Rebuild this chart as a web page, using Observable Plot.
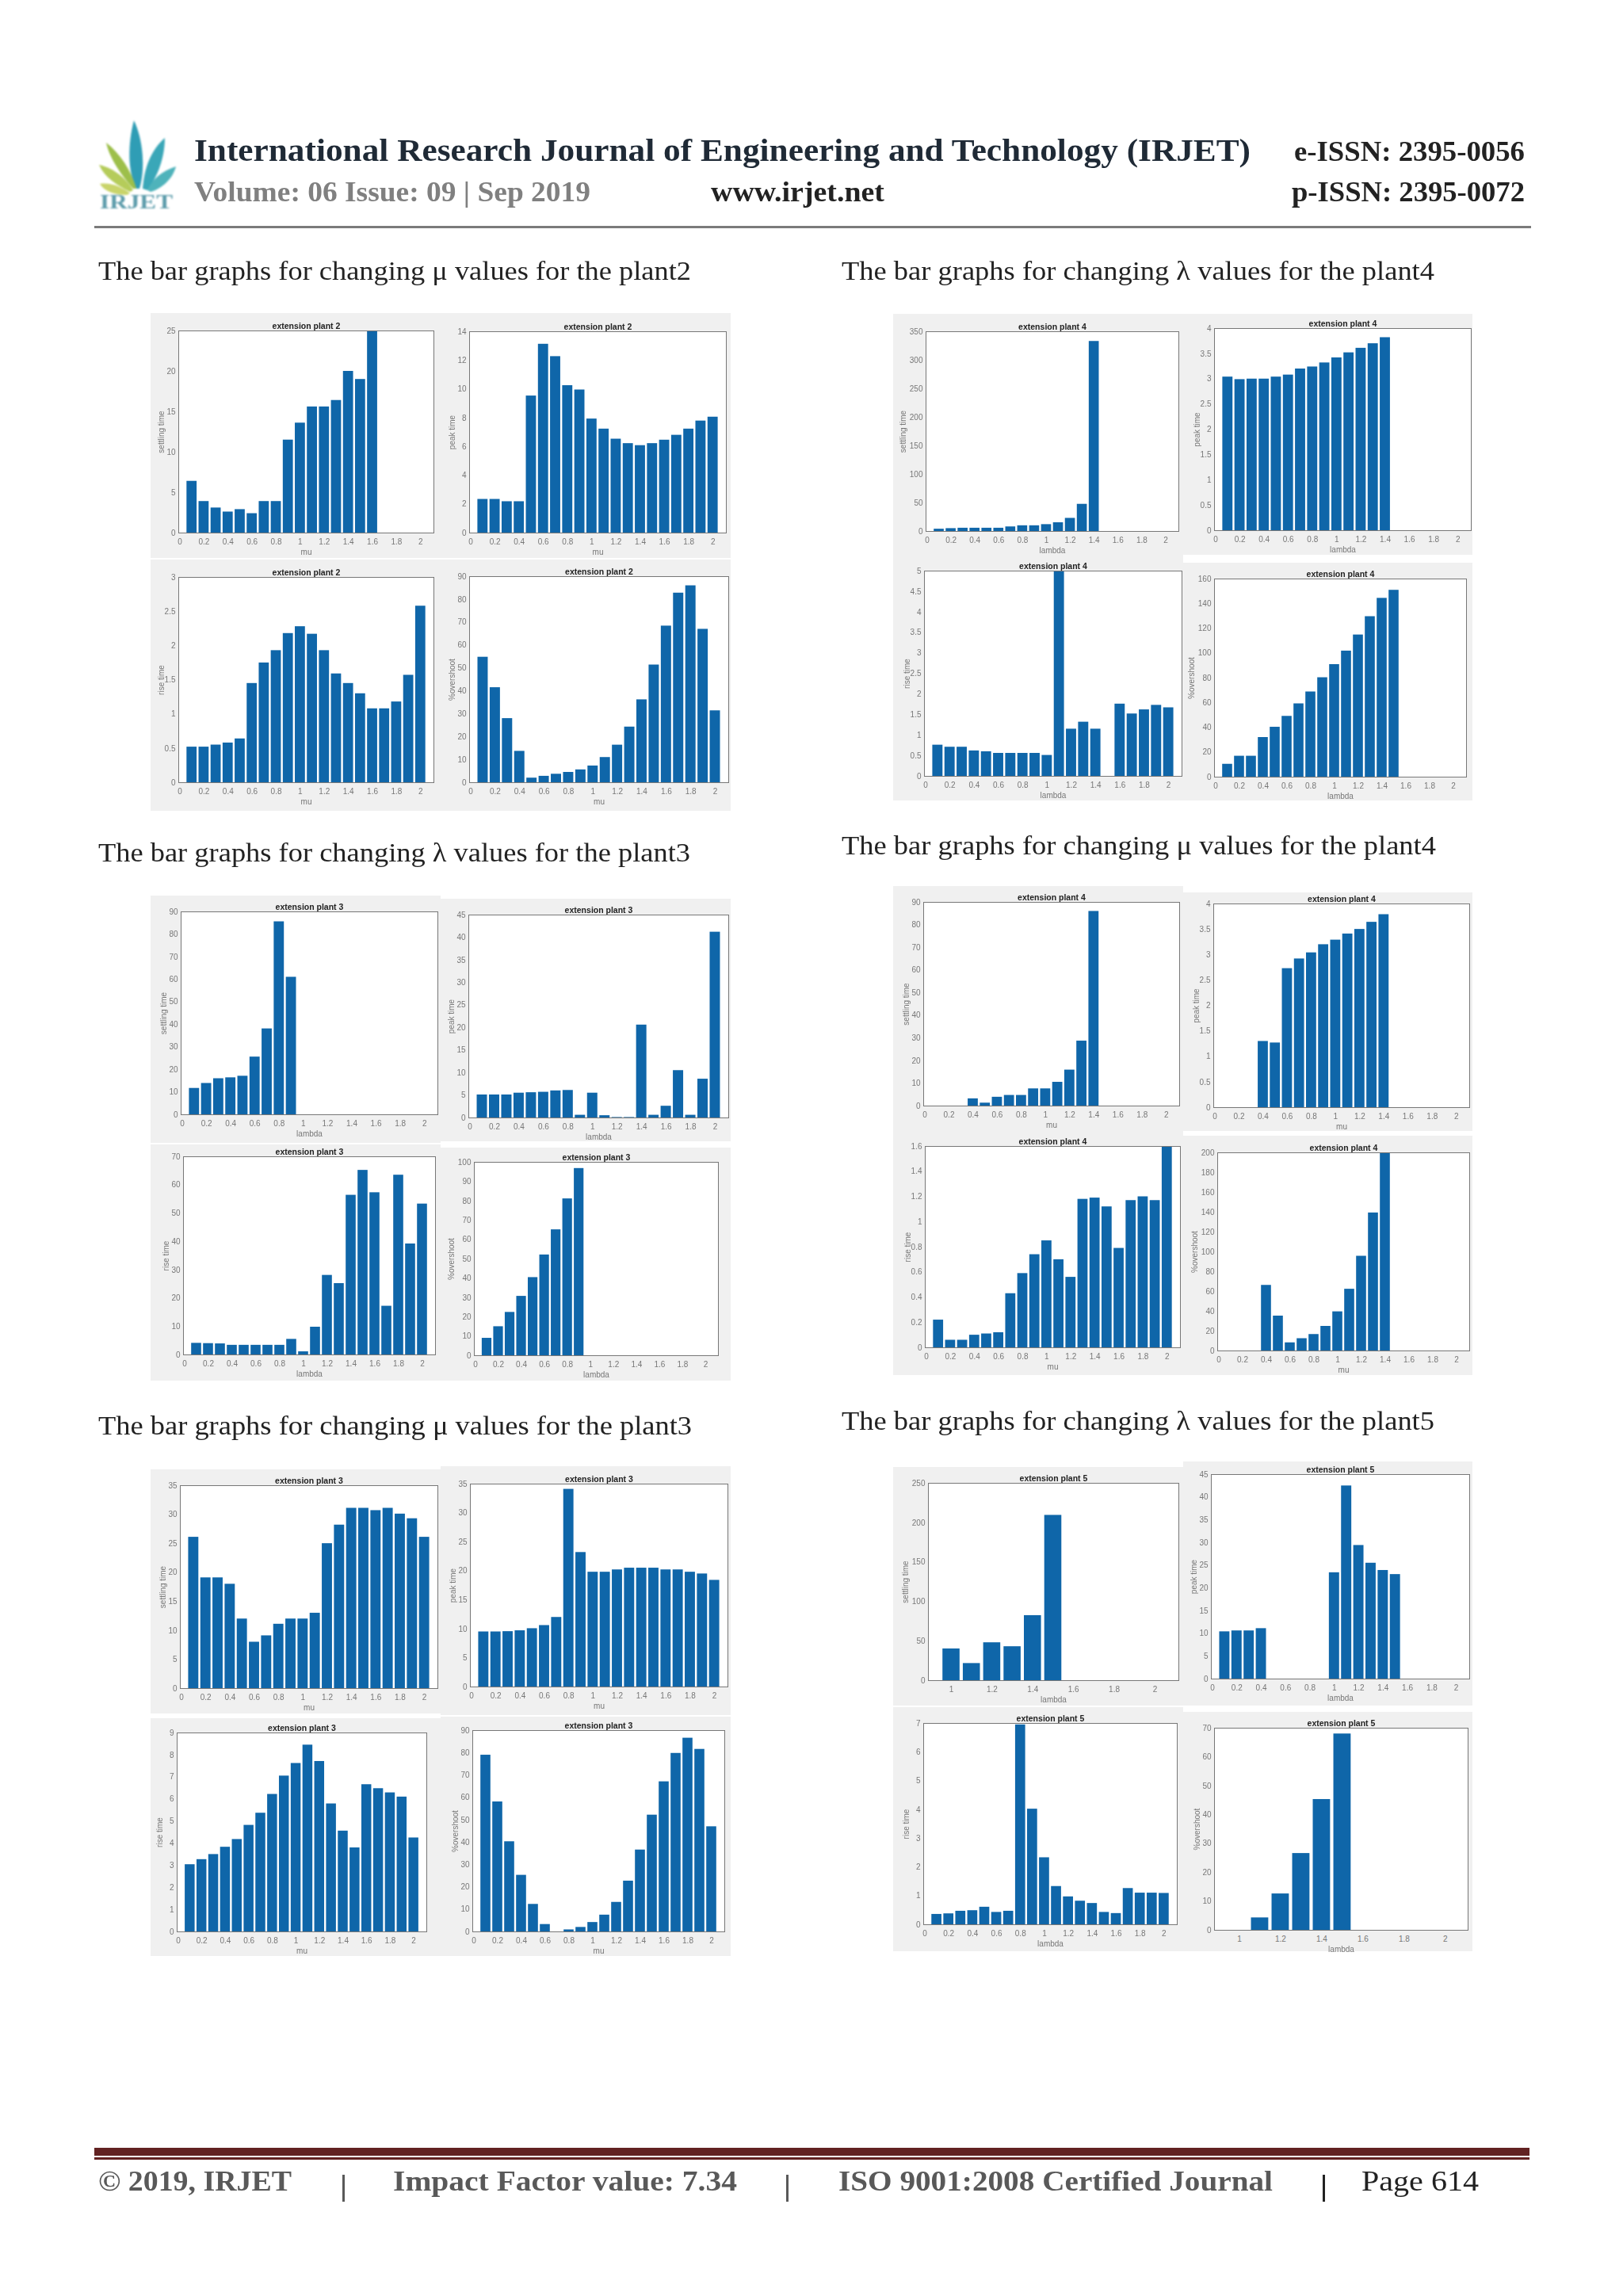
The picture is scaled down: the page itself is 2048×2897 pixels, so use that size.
<!DOCTYPE html>
<html>
<head>
<meta charset="utf-8">
<script src="https://cdn.jsdelivr.net/npm/d3@7"></script>
<script src="https://cdn.jsdelivr.net/npm/@observablehq/plot@0.6"></script>
<style>
html,body{margin:0;padding:0;background:#fff;}
#page{position:relative;width:2048px;height:2897px;overflow:hidden;background:#fff;}
.pt{position:absolute;white-space:nowrap;font-family:"Liberation Serif",serif;transform-origin:0 100%;line-height:1.15;}
.sub{position:absolute;}
.sub svg{filter:blur(0.7px);display:block;}
.bar{position:absolute;}
</style>
</head>
<body>
<div id="page"></div>
<script>
// ---------- shared axis values ----------
const barX = [0.1,0.2,0.3,0.4,0.5,0.6,0.7,0.8,0.9,1,1.1,1.2,1.3,1.4,1.5,1.6,1.7,1.8,1.9,2];
const xTicks = [0,0.2,0.4,0.6,0.8,1,1.2,1.4,1.6,1.8,2];
const xTicksZoom = [1,1.2,1.4,1.6,1.8,2];

// ---------- plant 2, changing mu ----------
const p2MuSettling = [6.4,3.9,3.1,2.6,2.9,2.4,3.9,3.9,11.5,13.6,15.6,15.6,16.4,20,19,25];
const p2MuPeak = [2.34,2.34,2.18,2.18,9.53,13.13,12.27,10.25,9.95,7.93,7.23,6.53,6.22,6.08,6.22,6.46,6.8,7.23,7.79,8.06];
const p2MuRise = [0.52,0.52,0.55,0.58,0.64,1.45,1.75,1.93,2.18,2.28,2.17,1.93,1.59,1.45,1.3,1.08,1.08,1.18,1.57,2.58];
const p2MuOver = [54.8,41.5,28,13.7,2,2.8,3.7,4.5,5.6,7.3,11,16.4,24.3,36.2,51.4,68.4,82.8,86,67,31.4];
// ---------- plant 4, changing lambda ----------
const p4LamSettling = [4,5,5.7,5.7,5.7,5.7,8,10,10,12,15.3,23,47.6,333];
const p4LamPeak = [3.04,2.99,3,3,3.04,3.08,3.2,3.24,3.32,3.42,3.52,3.61,3.7,3.82];
const p4LamRise = [0.76,0.71,0.71,0.62,0.6,0.56,0.56,0.56,0.56,0.51,5,1.15,1.32,1.15,null,1.76,1.52,1.62,1.73,1.67];
const p4LamOver = [10.4,16.9,16.9,32,40.3,49.1,59.2,68.8,80.3,90.9,101.8,114.8,129.6,144.4,150.9];
// ---------- plant 3, changing lambda ----------
const p3LamSettling = [11.7,13.9,16,16.4,17.1,25.6,38.1,85.6,61];
const p3LamPeak = [5.1,5.1,5.1,5.5,5.6,5.7,6,6.1,0.6,5.5,0.5,0.1,0.1,20.6,0.6,2.6,10.5,0.6,8.6,41.2];
const p3LamRise = [4.1,4,3.9,3.4,3.4,3.4,3.4,3.4,5.5,1.1,9.8,28.1,25.2,56.4,65.2,57.3,17.2,63.5,39.2,53.3];
const p3LamOver = [9,15,22.4,30.7,40.4,52.1,65.1,81.1,96.8];
// ---------- plant 4, changing mu ----------
const p4MuSettling = [null,null,null,3.2,1.3,3.9,4.7,4.7,7.6,7.6,10.5,15.9,28.7,86];
const p4MuPeak = [null,null,null,1.3,1.27,2.73,2.92,3.04,3.2,3.29,3.41,3.5,3.64,3.79];
const p4MuRise = [0.22,0.06,0.06,0.1,0.11,0.12,0.43,0.59,0.74,0.85,0.7,0.56,1.18,1.19,1.12,0.79,1.17,1.2,1.17,1.6];
const p4MuOver = [null,null,null,66.2,35.2,8.2,12.4,16.6,24.8,39.5,62.3,95.6,139.3,200];
// ---------- plant 3, changing mu ----------
const p3MuSettling = [26.1,19.1,19.1,18,12,8,9.1,11.1,12,12,13,25,28.2,31.1,31.1,30.7,31.1,30.1,29.3,26.1];
const p3MuPeak = [9.5,9.5,9.55,9.7,10.06,10.6,12,34.1,23.2,19.8,19.8,20.2,20.5,20.5,20.5,20.2,20.2,19.8,19.5,18.4];
const p3MuRise = [3.04,3.27,3.5,3.83,4.18,4.82,5.37,6.22,7.05,7.62,8.45,7.71,5.79,4.56,3.8,6.66,6.48,6.29,6.1,4.25];
const p3MuOver = [79,58.1,40.3,25.3,12.3,3.3,null,0.9,2,4.2,7.5,13.2,22.7,36.6,52.2,67.1,79.8,86.6,81.6,47];
// ---------- plant 5, changing lambda ----------
const p5LamSettling = [null,null,null,null,null,null,null,null,null,40.2,21.7,48,43,82.4,209.4];
const p5LamPeak = [10.4,10.6,10.6,11.1,null,null,null,null,null,23.4,42.5,29.4,25.5,23.9,23];
const p5LamRise = [0.36,0.38,0.47,0.49,0.61,0.43,0.47,6.95,4.02,2.33,1.33,0.97,0.82,0.74,0.43,0.39,1.26,1.1,1.1,1.09];
const p5LamOver = [null,null,null,null,null,null,null,null,null,null,4.3,12.6,26.6,45.3,68];

// ---------- tick labels of the value axes ----------
const t25 = [0,5,10,15,20,25];
const t14 = [0,2,4,6,8,10,12,14];
const t3 = [0,0.5,1,1.5,2,2.5,3];
const t90 = [0,10,20,30,40,50,60,70,80,90];
const t350 = [0,50,100,150,200,250,300,350];
const t4 = [0,0.5,1,1.5,2,2.5,3,3.5,4];
const t5 = [0,0.5,1,1.5,2,2.5,3,3.5,4,4.5,5];
const t160 = [0,20,40,60,80,100,120,140,160];
const t45 = [0,5,10,15,20,25,30,35,40,45];
const t7 = [0,1,2,3,4,5,6,7];
const t100 = [0,10,20,30,40,50,60,70,80,90,100];
const t16 = [0,0.2,0.4,0.6,0.8,1,1.2,1.4,1.6];
const t200 = [0,20,40,60,80,100,120,140,160,180,200];
const t35 = [0,5,10,15,20,25,30,35];
const t9 = [0,1,2,3,4,5,6,7,8,9];
const t250 = [0,50,100,150,200,250];
const t70 = [0,10,20,30,40,50,60,70];

// ---------- which series goes in which subplot ----------
const subplots = [
 {v:p2MuSettling,t:"extension plant 2",y:"settling time",x:"mu",yt:t25},
 {v:p2MuPeak,t:"extension plant 2",y:"peak time",x:"mu",yt:t14},
 {v:p2MuRise,t:"extension plant 2",y:"rise time",x:"mu",yt:t3},
 {v:p2MuOver,t:"extension plant 2",y:"%overshoot",x:"mu",yt:t90},
 {v:p4LamSettling,t:"extension plant 4",y:"settling time",x:"lambda",yt:t350},
 {v:p4LamPeak,t:"extension plant 4",y:"peak time",x:"lambda",yt:t4},
 {v:p4LamRise,t:"extension plant 4",y:"rise time",x:"lambda",yt:t5},
 {v:p4LamOver,t:"extension plant 4",y:"%overshoot",x:"lambda",yt:t160},
 {v:p3LamSettling,t:"extension plant 3",y:"settling time",x:"lambda",yt:t90},
 {v:p3LamPeak,t:"extension plant 3",y:"peak time",x:"lambda",yt:t45},
 {v:p3LamRise,t:"extension plant 3",y:"rise time",x:"lambda",yt:t70},
 {v:p3LamOver,t:"extension plant 3",y:"%overshoot",x:"lambda",yt:t100},
 {v:p4MuSettling,t:"extension plant 4",y:"settling time",x:"mu",yt:t90},
 {v:p4MuPeak,t:"extension plant 4",y:"peak time",x:"mu",yt:t4},
 {v:p4MuRise,t:"extension plant 4",y:"rise time",x:"mu",yt:t16},
 {v:p4MuOver,t:"extension plant 4",y:"%overshoot",x:"mu",yt:t200},
 {v:p3MuSettling,t:"extension plant 3",y:"settling time",x:"mu",yt:t35},
 {v:p3MuPeak,t:"extension plant 3",y:"peak time",x:"mu",yt:t35},
 {v:p3MuRise,t:"extension plant 3",y:"rise time",x:"mu",yt:t9},
 {v:p3MuOver,t:"extension plant 3",y:"%overshoot",x:"mu",yt:t90},
 {v:p5LamSettling,t:"extension plant 5",y:"settling time",x:"lambda",yt:t250,xd:[0.887,2.117],xt:xTicksZoom},
 {v:p5LamPeak,t:"extension plant 5",y:"peak time",x:"lambda",yt:t45},
 {v:p5LamRise,t:"extension plant 5",y:"rise time",x:"lambda",yt:t7},
 {v:p5LamOver,t:"extension plant 5",y:"%overshoot",x:"lambda",yt:t70,xd:[0.879,2.11],xt:xTicksZoom},
];

// ---------- page layout: panel x0,y0,x1,y1 then axes box L,T,R,B ----------
const layout = [
 [190,395,556,704, 225,417,547,672],[556,395,922,704, 592,418,916,672],
 [190,706,556,1023, 225,728,547,987],[556,706,922,1023, 592,727,919,987],
 [1127,396,1493,704, 1168,418,1487,670],[1493,396,1858,700, 1532,414,1856,669],
 [1127,704,1493,1010, 1166,720,1491,979],[1493,710,1858,1010, 1532,730,1850,980],
 [190,1130,556,1442, 228,1150,552,1406],[556,1134,922,1440, 591,1154,919,1410],
 [190,1444,556,1742, 231,1459,549,1709],[556,1448,922,1742, 598,1466,906,1710],
 [1127,1118,1493,1429, 1165,1138,1488,1395],[1493,1126,1858,1427, 1531,1140,1854,1397],
 [1127,1429,1493,1735, 1167,1446,1489,1700],[1493,1433,1858,1735, 1536,1454,1854,1704],
 [190,1854,556,2162, 227,1874,552,2130],[556,1850,922,2164, 593,1872,918,2128],
 [190,2168,556,2468, 223,2186,538,2437],[556,2166,922,2468, 596,2183,914,2437],
 [1127,1851,1493,2152, 1171,1871,1487,2120],[1493,1844,1858,2152, 1528,1860,1854,2118],
 [1127,2154,1493,2462, 1165,2174,1485,2428],[1493,2160,1858,2462, 1532,2180,1852,2435],
];

// ---------- page text: text, left, baseline, right, size, weight, colour ----------
const pageTexts = [
 ["International Research Journal of Engineering and Technology (IRJET)",245,206,1578,39,700,"#1f2a36"],
 ["e-ISSN: 2395-0056",1633,206,1924,36,700,"#222"],
 ["Volume: 06 Issue: 09 | Sep 2019",245,257,745,35,700,"#808080"],
 ["www.irjet.net",897,257,1116,35,700,"#222"],
 ["p-ISSN: 2395-0072",1630,257,1924,36,700,"#222"],
 ["The bar graphs for changing \u03bc values for the plant2",124,356,872,33,400,"#222"],
 ["The bar graphs for changing \u03bb values for the plant4",1062,356,1810,33,400,"#222"],
 ["The bar graphs for changing \u03bb values for the plant3",124,1090,871,33,400,"#222"],
 ["The bar graphs for changing \u03bc values for the plant4",1062,1081,1812,33,400,"#222"],
 ["The bar graphs for changing \u03bc values for the plant3",124,1813,873,33,400,"#222"],
 ["The bar graphs for changing \u03bb values for the plant5",1062,1807,1810,33,400,"#222"],
 ["\u00a9 2019, IRJET",124,2767,368,36,700,"#595959"],
 ["Impact Factor value: 7.34",496,2767,930,36,700,"#595959"],
 ["ISO 9001:2008 Certified Journal",1058,2767,1606,36,700,"#595959"],
 ["Page 614",1718,2767,1866,36,400,"#222"],
];
const pageBars = [
 [119,285,1813,3,"#7b7b7b"],[119,2710,1811,10,"#622222"],[119,2722,1811,3,"#622222"],
 [432,2744,3,34,"#595959"],[992,2744,3,34,"#595959"],[1669,2744,3,34,"#222"],
];

const page = document.getElementById("page");

// logo
page.insertAdjacentHTML("beforeend", `
<svg style="position:absolute;left:120px;top:150px;filter:blur(0.8px)" width="104" height="126" viewBox="0 0 104 126">
 <path d="M52 88 C38 60 44 20 49 2 C60 24 64 62 56 88Z" fill="#2f9db5"/>
 <path d="M60 88 C62 62 70 40 88 24 C88 50 78 74 66 90Z" fill="#3aa7b8"/>
 <path d="M66 90 C72 76 84 66 102 60 C98 76 84 88 70 92Z" fill="#4fb3bb"/>
 <path d="M48 88 C34 72 18 50 14 30 C32 44 46 66 52 88Z" fill="#9dbf4a"/>
 <path d="M44 92 C28 84 12 74 5 58 C24 62 40 76 48 90Z" fill="#b5cc5a"/>
 <path d="M40 96 C26 96 12 92 6 82 C20 80 34 86 44 94Z" fill="#c9d46a"/>
 <text x="6" y="113" font-family="Liberation Serif" font-size="25" font-weight="700" fill="#5d9cab" textLength="92" lengthAdjust="spacingAndGlyphs">IRJET</text>
</svg>`);

// rules
pageBars.forEach(([x,y,w,h,c])=>{
  const d=document.createElement("div");d.className="bar";
  d.style.cssText=`left:${x}px;top:${y}px;width:${w}px;height:${h}px;background:${c}`;
  page.appendChild(d);
});

// text, stretched to the widths of the original
pageTexts.forEach(([s,x,base,right,size,weight,color])=>{
  const d=document.createElement("div");d.className="pt";d.textContent=s;
  d.style.cssText=`left:${x}px;top:${base-size*0.97}px;font-size:${size}px;font-weight:${weight};color:${color}`;
  page.appendChild(d);
  d.style.transform=`scaleX(${(right-x)/d.getBoundingClientRect().width})`;
});

// subplots
subplots.forEach((s,i)=>{
  const [px0,py0,px1,py1,L,T,R,B]=layout[i];
  const rows=s.v.map((v,j)=>({x:barX[j],v})).filter(d=>d.v!=null);
  const half=0.042;
  const xd=s.xd||[-0.01,2.11];
  const wideTicks=s.yt[s.yt.length-1]>=100;
  const chart=Plot.plot({
    width:px1-px0,height:py1-py0,
    marginLeft:L-px0,marginRight:px1-R,marginTop:T-py0,marginBottom:py1-B,
    style:{background:"#f0f0f0",fontFamily:"Liberation Sans",fontSize:"10px",color:"#777",overflow:"visible"},
    x:{domain:xd},
    y:{domain:[0,s.yt[s.yt.length-1]]},
    marks:[
      Plot.frame({fill:"#fff",stroke:"none"}),
      Plot.rectY(rows,{x1:d=>d.x-half,x2:d=>d.x+half,y1:0,y2:"v",fill:"#0f66a9"}),
      Plot.frame({stroke:"#777",strokeWidth:1}),
      Plot.axisX({ticks:s.xt||xTicks,tickFormat:d=>String(d),tickSize:0,tickPadding:7,
        label:s.x,labelAnchor:"center",labelArrow:"none",labelOffset:27,fill:"#777"}),
      Plot.axisY({ticks:s.yt,tickFormat:d=>String(d),tickSize:0,tickPadding:4,
        label:s.y,labelAnchor:"center",labelArrow:"none",labelOffset:wideTicks?33:26,fill:"#777"}),
      Plot.text([s.t],{frameAnchor:"top",dy:-10,fontWeight:"bold",fontSize:10.5,fill:"#222"}),
    ]
  });
  const wrap=document.createElement("div");wrap.className="sub";
  wrap.style.cssText=`left:${px0}px;top:${py0}px;width:${px1-px0}px;height:${py1-py0}px`;
  wrap.appendChild(chart);
  page.appendChild(wrap);
});
</script>
</body>
</html>
